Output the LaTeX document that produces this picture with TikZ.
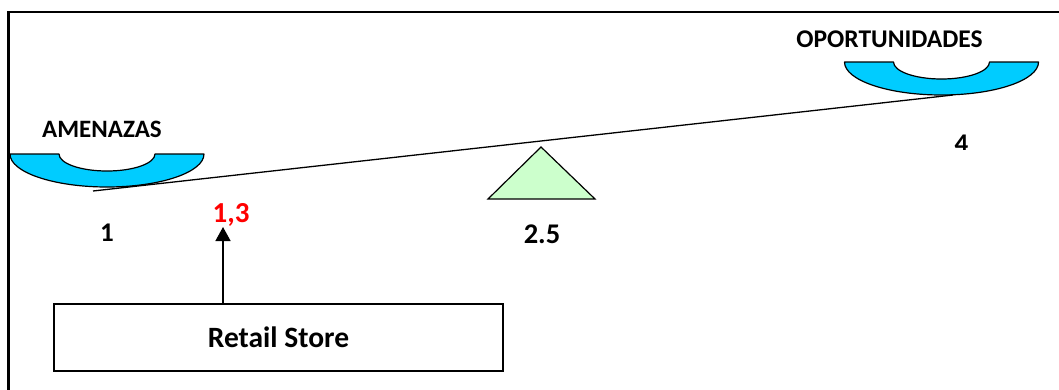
\documentclass[tikz,border=0pt]{standalone}
\usepackage{fontspec}
\setmainfont{Carlito}
\usetikzlibrary{arrows.meta}
\definecolor{pancyan}{HTML}{00CCFF}
\definecolor{fulcrum}{HTML}{CCFFCC}
\definecolor{redlabel}{HTML}{FF0000}
\tikzset{
  lbl/.style={inner sep=0pt, font=\bfseries\fontsize{25}{28}\selectfont},
  numlbl/.style={inner sep=0pt, font=\bfseries\fontsize{27}{30}\selectfont},
  biglbl/.style={inner sep=0pt, font=\bfseries\fontsize{28.5}{32}\selectfont},
  panstyle/.style={draw=black, fill=pancyan, line width=1.2pt, line join=round},
  pics/pan/.style={code={
    \path[panstyle] (-97,0) -- (-48,0) .. controls (-48,9.4) and (-26.5,17) .. (0,17)
      .. controls (26.5,17) and (48,9.4) .. (48,0) -- (97,0)
      .. controls (97,18.2) and (53.6,33) .. (0,33)
      .. controls (-53.6,33) and (-97,18.2) .. (-97,0) -- cycle;
  }},
}
\begin{document}
\begin{tikzpicture}[x=1pt,y=-1pt]
\useasboundingbox (0,0) rectangle (1059,389);
\fill[white] (0,0) rectangle (1059,389);
% frame (only top and left visible)
\draw[line width=2.5pt] (8.7,420) -- (8.7,12) -- (1080,12);
% pans
\pic at (107,154) {pan};
\pic at (941.5,62) {pan};
% beam
\coordinate (beamL) at (93,191);
\coordinate (beamR) at (953,95);
\draw[line width=1.3pt] (beamL) -- (beamR);
% fulcrum
\draw[fill=fulcrum, line width=1.2pt, line join=miter] (541,147) -- (488,199) -- (595,199) -- cycle;
% labels
\node[lbl] (amen) at (102,129) {AMENAZAS};
\node[lbl, font=\bfseries\fontsize{25.5}{28}\selectfont] (oport) at (889.5,39.5) {OPORTUNIDADES};
\node[numlbl] (one) at (107,232.5) {1};
\begin{scope}
  \clip (930,120) rectangle (990,149.5);
  \node[numlbl] (four) at (961.5,143.5) {4};
\end{scope}
\node[biglbl] (twofive) at (542,234) {2.5};
\node[biglbl, font=\bfseries\fontsize{29}{32}\selectfont, text=redlabel] (onethree) at (231,215) {1,3};
% retail box
\node[draw, line width=1.3pt, minimum width=449pt, minimum height=67pt, inner sep=0pt,
      font=\bfseries\fontsize{29.5}{33}\selectfont] (retail) at (278.5,337.5) {Retail Store};
\coordinate (tip) at (223,227);
\draw[line width=1.5pt, -{Triangle[width=15pt,length=14pt]}] (retail.north -| tip) -- (tip);
\end{tikzpicture}
\end{document}
